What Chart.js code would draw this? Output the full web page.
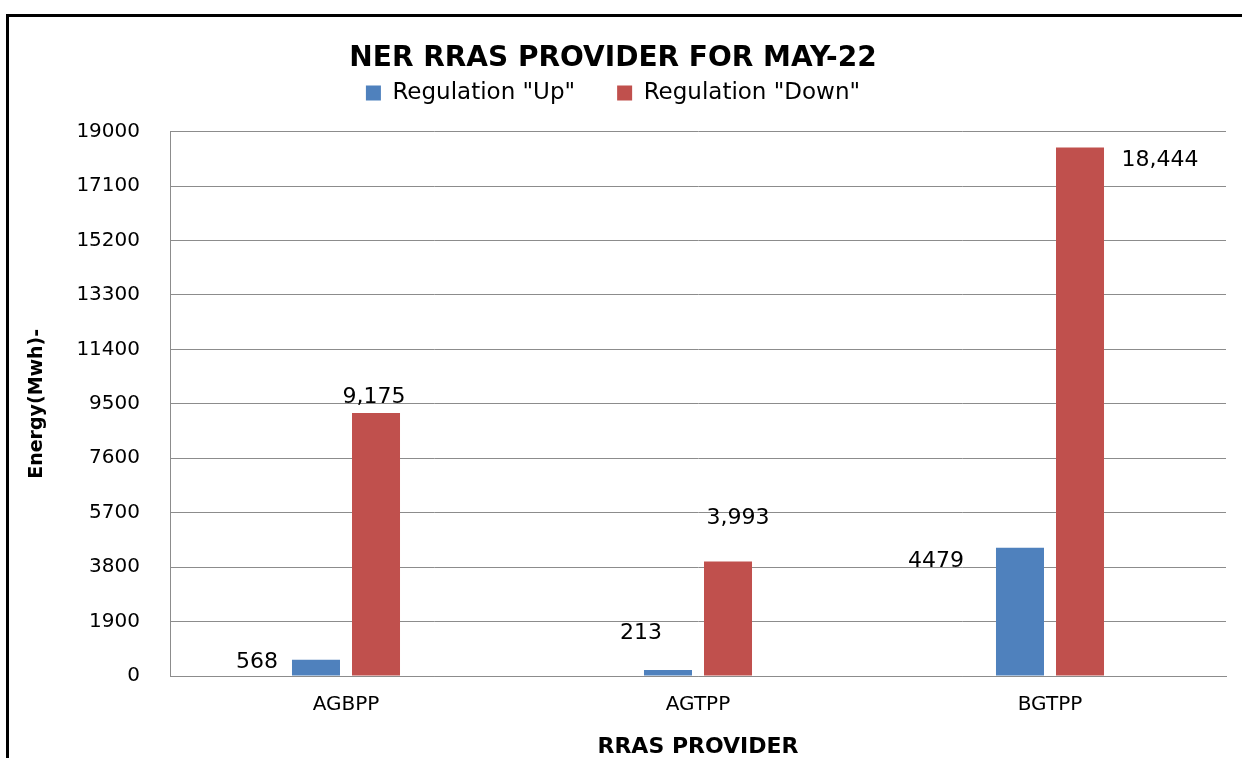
<!DOCTYPE html>
<html>
<head>
<meta charset="utf-8">
<title>NER RRAS Provider for May-22</title>
<script src="https://cdn.jsdelivr.net/npm/chart.js@4.4.0/dist/chart.umd.min.js"></script>
<style>
    body { margin: 0; background: #fff; }
    canvas { display: block; }
</style>
</head>
<body>
<canvas id="rrasChart" width="1242" height="758"></canvas>
<script>
// values
const providers = ['AGBPP', 'AGTPP', 'BGTPP'];
const regulationUp = [568, 213, 4479];
const regulationDown = [9175, 3993, 18444];
const yMin = 0;
const yMax = 19000;
const yStep = 1900;

// where each value label sits, relative to the top centre of its bar
const upLabelOffsets = [[-59, 3], [-27, -37], [-84, 14]];
const downLabelOffsets = [[-2, -16], [10, -43], [80, 13]];

const FONT = '"DejaVu Sans", Verdana, sans-serif';

// black frame round the chart (only top and left edges fall inside the picture)
const frame = {
    id: 'frame',
    beforeDraw(chart) {
        const ctx = chart.ctx;
        ctx.save();
        ctx.fillStyle = '#fff';
        ctx.fillRect(0, 0, chart.width, chart.height);
        ctx.strokeStyle = '#000';
        ctx.lineWidth = 3;
        ctx.beginPath();
        ctx.moveTo(chart.width + 5, 15.5);
        ctx.lineTo(7.5, 15.5);
        ctx.lineTo(7.5, chart.height + 5);
        ctx.stroke();
        ctx.restore();
    }
};

const valueLabels = {
    id: 'valueLabels',
    afterDatasetsDraw(chart) {
        const ctx = chart.ctx;
        ctx.save();
        ctx.font = '22px ' + FONT;
        ctx.fillStyle = '#000';
        ctx.textAlign = 'center';
        ctx.textBaseline = 'middle';
        chart.data.datasets.forEach((ds, i) => {
            chart.getDatasetMeta(i).data.forEach((bar, j) => {
                const off = ds.labelOffsets[j];
                const v = ds.data[j];
                const text = ds.useComma ? v.toLocaleString('en-US') : String(v);
                ctx.fillText(text, bar.x + off[0], bar.y + off[1]);
            });
        });
        ctx.restore();
    }
};

new Chart(document.getElementById('rrasChart').getContext('2d'), {
    type: 'bar',
    data: {
        labels: providers,
        datasets: [{
            label: 'Regulation "Up"',
            data: regulationUp,
            backgroundColor: '#4F81BD',
            labelOffsets: upLabelOffsets,
            useComma: false,
            categoryPercentage: 0.341,
            barPercentage: 0.8
        }, {
            label: 'Regulation "Down"',
            data: regulationDown,
            backgroundColor: '#C0504D',
            labelOffsets: downLabelOffsets,
            useComma: true,
            categoryPercentage: 0.341,
            barPercentage: 0.8
        }]
    },
    options: {
        responsive: false,
        animation: false,
        layout: {
            padding: { left: 0, right: 16, top: 0, bottom: 0 }
        },
        plugins: {
            title: {
                display: true,
                text: 'NER RRAS PROVIDER FOR MAY-22',
                color: '#000',
                font: { family: FONT, size: 28, weight: 'bold', lineHeight: 1.2 },
                padding: { top: 42, bottom: -36 }
            },
            // empty spacer between legend and plot area
            subtitle: {
                display: true,
                text: ' ',
                weight: 500,
                font: { size: 1, lineHeight: 1 },
                padding: { top: 16, bottom: 0 }
            },
            legend: {
                display: true,
                position: 'top',
                labels: {
                    color: '#000',
                    font: { family: FONT, size: 23 },
                    boxWidth: 15,
                    boxHeight: 15,
                    padding: 42
                }
            },
            tooltip: { enabled: false }
        },
        scales: {
            x: {
                grid: { display: false, drawTicks: false },
                border: { color: '#8c8c8c' },
                ticks: {
                    color: '#000',
                    font: { family: FONT, size: 20 },
                    padding: 17
                },
                title: {
                    display: true,
                    text: 'RRAS PROVIDER',
                    color: '#000',
                    font: { family: FONT, size: 22, weight: 'bold', lineHeight: 1 },
                    padding: 0
                },
                afterFit(scale) { scale.height = 82; }
            },
            y: {
                min: yMin,
                max: yMax,
                grid: { color: '#8c8c8c', drawTicks: false },
                border: { color: '#8c8c8c' },
                ticks: {
                    stepSize: yStep,
                    color: '#000',
                    font: { family: FONT, size: 20 },
                    padding: 30,
                    callback: (value) => String(value)
                },
                title: {
                    display: true,
                    text: 'Energy(Mwh)-',
                    color: '#000',
                    font: { family: FONT, size: 19, weight: 'bold', lineHeight: 1.2 },
                    padding: { top: 26, bottom: 0 }
                },
                afterFit(scale) { scale.width = 170; }
            }
        }
    },
    plugins: [frame, valueLabels]
});
</script>
</body>
</html>
